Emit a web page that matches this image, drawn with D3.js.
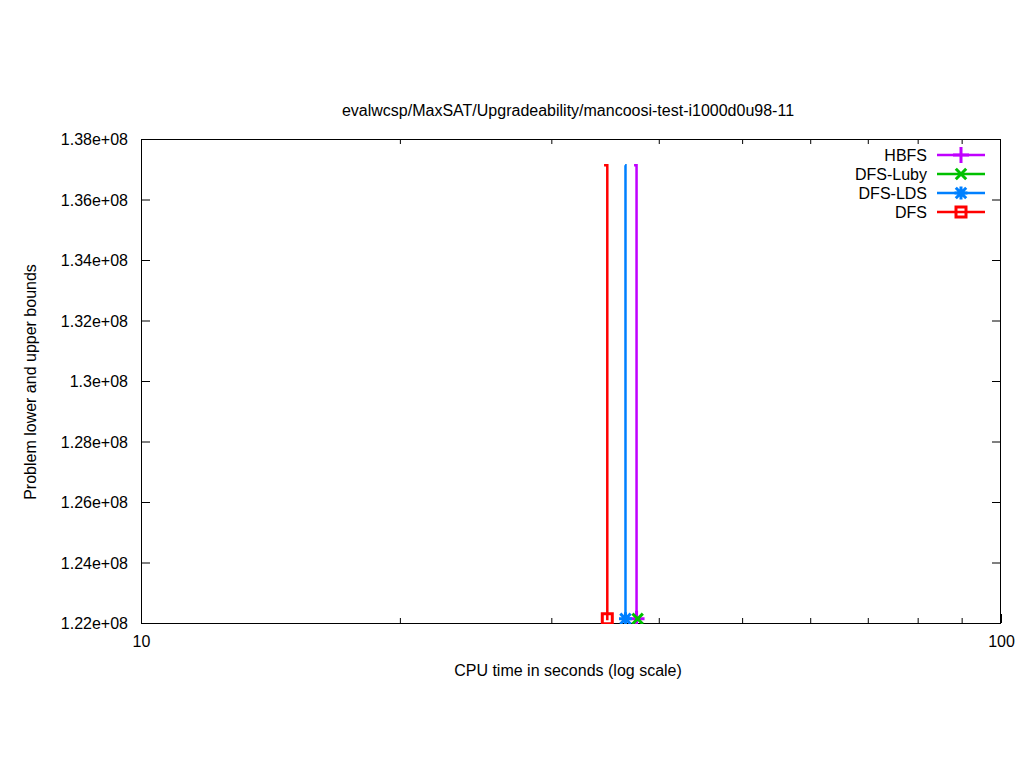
<!DOCTYPE html>
<html><head><meta charset="utf-8">
<script src="https://cdn.jsdelivr.net/npm/d3@7"></script>
<style>body{margin:0;background:#fff}text{font-family:"Liberation Sans",Arial,sans-serif;font-size:16px;fill:#000}</style>
</head><body>
<svg id="c" width="1024" height="768"></svg>
<script>
const title = "evalwcsp/MaxSAT/Upgradeability/mancoosi-test-i1000d0u98-11";
const seriesNames = ["HBFS", "DFS-Luby", "DFS-LDS", "DFS"];
const seriesColors = ["#c000ff", "#00c000", "#0080ff", "#ff0000"];
const seriesMarkers = ["plus", "cross", "star", "square"];
const hbfsTimes = [37.44, 37.69];
const hbfsBounds = [1.3713e8, 1.2209e8];
const lubyTimes = [37.80];
const lubyBounds = [1.2209e8];
const ldsTimes = [36.55, 36.59];
const ldsBounds = [1.3713e8, 1.2209e8];
const dfsTimes = [34.55, 34.85];
const dfsBounds = [1.3713e8, 1.2209e8];
const yTicks = [1.22e8, 1.24e8, 1.26e8, 1.28e8, 1.3e8, 1.32e8, 1.34e8, 1.36e8, 1.38e8];
const yTickLabels = ["1.22e+08","1.24e+08","1.26e+08","1.28e+08","1.3e+08","1.32e+08","1.34e+08","1.36e+08","1.38e+08"];
const xTicks = [10, 100];
const xMinorTicks = [20, 30, 40, 50, 60, 70, 80, 90];

const allTimes = [hbfsTimes, lubyTimes, ldsTimes, dfsTimes];
const allBounds = [hbfsBounds, lubyBounds, ldsBounds, dfsBounds];

const L = 141, R = 1001, T = 139, B = 623;
const svg = d3.select("#c");
const x = d3.scaleLog().domain([10, 100]).range([L, R]);
const y = d3.scaleLinear().domain([1.22e8, 1.38e8]).range([B, T]);

svg.append("defs").append("clipPath").attr("id","clip")
  .append("rect").attr("x",L).attr("y",T).attr("width",R-L).attr("height",B-T+1);

const FONT = "'Liberation Sans',Arial,sans-serif";
const yLeft = svg.append("g").attr("transform",`translate(${L},0)`)
  .call(d3.axisLeft(y).tickValues(yTicks).tickFormat((d,i)=>yTickLabels[i]).tickSizeInner(-9).tickSizeOuter(0).tickPadding(13));
const yRight = svg.append("g").attr("transform",`translate(${R},0)`)
  .call(d3.axisRight(y).tickValues(yTicks.slice(1,-1)).tickFormat("").tickSizeInner(-9).tickSizeOuter(0));
const xBottom = svg.append("g").attr("transform",`translate(0,${B})`)
  .call(d3.axisBottom(x).tickValues(xTicks).tickFormat(d3.format("d")).tickSizeInner(-9).tickSizeOuter(0).tickPadding(13));
const xBottomMinor = svg.append("g").attr("transform",`translate(0,${B})`)
  .call(d3.axisBottom(x).tickValues(xMinorTicks).tickFormat("").tickSizeInner(-5).tickSizeOuter(0));
const xTop = svg.append("g").attr("transform",`translate(0,${T})`)
  .call(d3.axisTop(x).tickValues(xMinorTicks).tickFormat("").tickSizeInner(-5).tickSizeOuter(0));
[yLeft,yRight,xBottom,xBottomMinor,xTop].forEach(g=>{
  g.select(".domain").remove();
  g.selectAll("line").attr("stroke","#000");
  g.selectAll("text").attr("fill","#000").style("font-family",FONT).style("font-size","16px");
});
yLeft.selectAll("text").attr("dy","0.35em");
svg.append("rect").attr("x",L+0.5).attr("y",T+0.5).attr("width",R-L-1).attr("height",B-T)
  .attr("fill","none").attr("stroke","#000").attr("stroke-width",1);

svg.append("text").attr("x",568).attr("y",116).attr("text-anchor","middle").text(title);
svg.append("text").attr("x",568).attr("y",676).attr("text-anchor","middle").text("CPU time in seconds (log scale)");
svg.append("text").attr("transform","translate(36,382) rotate(-90)").attr("text-anchor","middle").text("Problem lower and upper bounds");

function marker(g, type, cx, cy, color) {
  const p = d3.path();
  if (type === "plus") { const s = 8; p.moveTo(cx-s,cy); p.lineTo(cx+s,cy); p.moveTo(cx,cy-s); p.lineTo(cx,cy+s); }
  if (type === "cross" || type === "star") { const s = 5.2; p.moveTo(cx-s,cy-s); p.lineTo(cx+s,cy+s); p.moveTo(cx-s,cy+s); p.lineTo(cx+s,cy-s); }
  if (type === "star") { const s = 6.5; p.moveTo(cx-s,cy); p.lineTo(cx+s,cy); p.moveTo(cx,cy-s); p.lineTo(cx,cy+s); }
  if (type === "square") { const s = 5; p.rect(cx-s,cy-s,2*s,2*s); }
  g.append("path").attr("d",p.toString()).attr("fill","none").attr("stroke",color).attr("stroke-width",3);
}

const line = d3.line().x(d=>x(d[0])).y(d=>y(d[1])).curve(d3.curveStepAfter);
const plot = svg.append("g");
seriesNames.forEach((name,i)=>{
  const pts = allTimes[i].map((t,j)=>[t, allBounds[i][j]]);
  const g = plot.append("g");
  if (pts.length > 1)
    g.append("path").attr("d", line(pts)).attr("fill","none").attr("stroke",seriesColors[i]).attr("stroke-width",2.5);
  const last = pts[pts.length-1];
  const mg = g.append("g").attr("clip-path","url(#clip)");
  marker(mg, seriesMarkers[i], x(last[0]), y(last[1]) - 1.5, seriesColors[i]);
  const ly = 155 + i*19;
  svg.append("text").attr("x",927).attr("y",ly).attr("dy","0.35em").attr("text-anchor","end").text(name);
  svg.append("line").attr("x1",937).attr("x2",985).attr("y1",ly).attr("y2",ly).attr("stroke",seriesColors[i]).attr("stroke-width",2.5);
  marker(svg, seriesMarkers[i], 961, ly, seriesColors[i]);
});
</script>
</body></html>
